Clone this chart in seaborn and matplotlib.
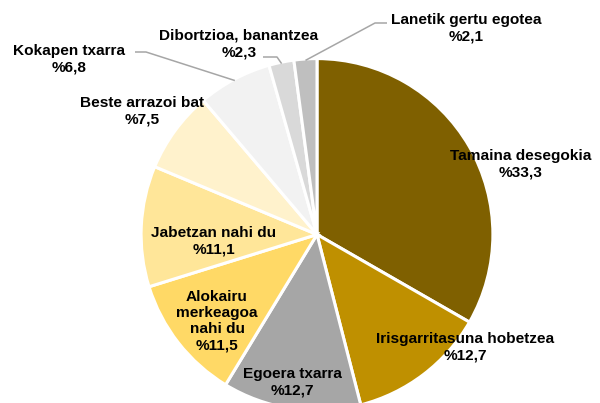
import numpy as np
import seaborn as sns
import matplotlib
matplotlib.use("Agg")
import matplotlib.pyplot as plt

# data, clockwise from 12 o'clock
labels = [
    "Tamaina desegokia",
    "Irisgarritasuna hobetzea",
    "Egoera txarra",
    "Alokairu\nmerkeagoa\nnahi du",
    "Jabetzan nahi du",
    "Beste arrazoi bat",
    "Kokapen txarra",
    "Dibortzioa, banantzea",
    "Lanetik gertu egotea",
]
values = [33.3, 12.7, 12.7, 11.5, 11.1, 7.5, 6.8, 2.3, 2.1]
colors = ["#7F6000", "#BF9000", "#A6A6A6", "#FFD966", "#FFE699",
          "#FFF2CC", "#F2F2F2", "#D9D9D9", "#BFBFBF"]

# layout (pixels in the 600x403 picture)
CX, CY, R = 317, 234.5, 174.5
label_px = [(521, 164), (465, 347), (292, 382), (217, 321), (214, 241),
            (142, 111), (69, 59), (239, 44), (466, 28.5)]
# leader lines: elbow and end point, for the small outside labels
leaders = {6: [(146, 52), (135, 52)],
           7: [(277, 57), (263, 57)],
           8: [(375, 23), (387, 23)]}


def to_data(px, py):
    return (px - CX) / R, (CY - py) / R


sns.set_theme(style="white")
plt.rcParams["font.family"] = ["Liberation Sans", "DejaVu Sans"]

fig = plt.figure(figsize=(6.0, 4.03), dpi=100)
ax = fig.add_axes([0, 0, 1, 1])
wedges, _ = ax.pie(values, colors=colors, startangle=90, counterclock=False,
                   radius=1.008,
                   wedgeprops=dict(edgecolor="white", linewidth=2.2))

for i, (lab, v) in enumerate(zip(labels, values)):
    tx, ty = to_data(*label_px[i])
    ax.text(tx, ty, f"{lab}\n%{v:.1f}".replace(".", ","), ha="center",
            va="center", fontsize=11.1, fontweight="bold", color="black",
            linespacing=1.2)
    if i in leaders:
        w = wedges[i]
        mid = np.deg2rad((w.theta1 + w.theta2) / 2)
        pts = [(np.cos(mid), np.sin(mid))] + [to_data(*p) for p in leaders[i]]
        xs, ys = zip(*pts)
        ax.plot(xs, ys, color="#A6A6A6", lw=1.1, solid_capstyle="butt")

ax.set_xlim(-CX / R, (600 - CX) / R)
ax.set_ylim((CY - 403) / R, CY / R)
ax.set_aspect("auto")
ax.axis("off")
fig.savefig("out.png", dpi=100)
